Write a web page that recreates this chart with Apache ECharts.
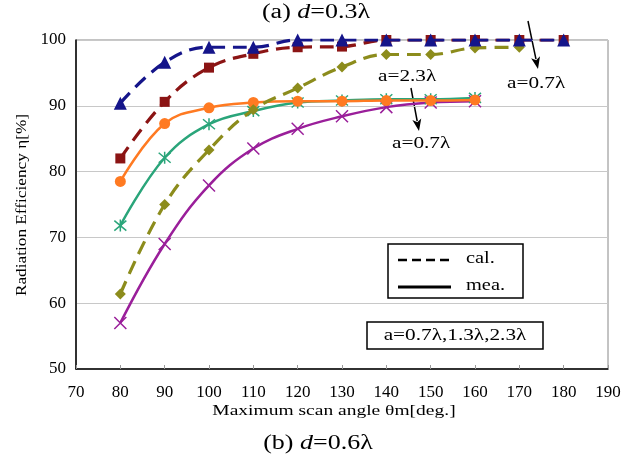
<!DOCTYPE html>
<html><head><meta charset="utf-8">
<script src="https://cdn.jsdelivr.net/npm/echarts@6/dist/echarts.min.js"></script>
<style>html,body{margin:0;padding:0;background:#fff}#c{width:631px;height:459px}</style>
</head><body><div id="c"></div>
<script>
// ---- data ----
const angles = [80, 90, 100, 110, 120, 130, 140, 150, 160, 170, 180];
const xTicks = [70, 80, 90, 100, 110, 120, 130, 140, 150, 160, 170, 180, 190];
const yTicks = [50, 60, 70, 80, 90, 100];
const calBlue   = [90.4, 96.6, 98.9, 98.9, 100, 100, 100, 100, 100, 100, 100];
const calRed    = [82.0, 90.6, 95.8, 97.9, 98.9, 99.0, 100, 100, 100, 100, 100];
const calOlive  = [61.4, 75.0, 83.3, 89.4, 92.7, 95.9, 97.8, 97.8, 98.8, 98.9];
const meaOrange = [78.5, 87.3, 89.7, 90.5, 90.7, 90.7, 90.8, 90.8, 90.9];
const meaGreen  = [71.8, 82.1, 87.2, 89.2, 90.5, 90.8, 91.0, 91.0, 91.2];
const meaPurple = [57.0, 69.0, 77.9, 83.5, 86.5, 88.4, 89.8, 90.5, 90.7];

const FONT = "'Liberation Serif','Times New Roman',serif";
const pairs = vals => vals.map((v, i) => [angles[i], v]);
const X_PATH = 'path://M0,0L10,10M10,0L0,10';
const AST_PATH = 'path://M0,0L10,10M10,0L0,10M5,-1L5,11';

function lineSeries(name, vals, color, dashed, symbol, size, strokeOnly, z) {
  return {
    name, type: 'line', data: pairs(vals), smooth: 0.4, z: z,
    symbol, symbolSize: size,
    lineStyle: { color, width: dashed ? 3.2 : 2.5, type: dashed ? [14, 8] : 'solid' },
    itemStyle: strokeOnly ? { color: 'rgba(0,0,0,0)', borderColor: color, borderWidth: 1.5 } : { color },
    emphasis: { disabled: true }
  };
}

function arrow(x1, y1, x2, y2) {
  const dx = x2 - x1, dy = y2 - y1, L = Math.hypot(dx, dy);
  const ux = dx / L, uy = dy / L, hl = 12, hw = 4.5;
  const bx = x2 - ux * hl, by = y2 - uy * hl;
  return [
    { type: 'line', shape: { x1, y1, x2: bx + ux * 2, y2: by + uy * 2 }, style: { stroke: '#000', lineWidth: 1.5 } },
    { type: 'polygon', shape: { points: [[x2, y2], [bx - uy * hw, by + ux * hw], [bx + ux * 3, by + uy * 3], [bx + uy * hw, by - ux * hw]] }, style: { fill: '#000' } }
  ];
}
function txt(x, y, text, size, align, sx, rich, rot) {
  return { type: 'text', x, y, scaleX: sx || 1, rotation: rot || 0, z: 100,
    style: { text, font: size + 'px ' + FONT, fill: '#000', align: align || 'left', verticalAlign: 'middle', rich: rich } };
}
const italicRich = { i: { fontStyle: 'italic', fontSize: 20, fontFamily: FONT } };

const chart = echarts.init(document.getElementById('c'), null, { renderer: 'canvas' });
chart.setOption({
  backgroundColor: '#fff',
  animation: false,
  grid: { left: 76, right: 23, top: 40, bottom: 90, show: true, borderColor: '#888', borderWidth: 1, backgroundColor: '#fff' },
  xAxis: {
    type: 'value', min: xTicks[0], max: xTicks[xTicks.length - 1], interval: 10,
    axisLine: { lineStyle: { color: '#000', width: 1.5 } },
    axisTick: { inside: true, length: 4, lineStyle: { color: '#999' } },
    axisLabel: { fontFamily: FONT, fontSize: 17, color: '#000', margin: 15 },
    splitLine: { show: false }
  },
  yAxis: {
    type: 'value', min: yTicks[0], max: yTicks[yTicks.length - 1], interval: 10,
    axisLine: { show: true, lineStyle: { color: '#000', width: 1.5 } },
    axisTick: { show: false },
    axisLabel: { fontFamily: FONT, fontSize: 17, color: '#000', margin: 10 },
    splitLine: { lineStyle: { color: '#c8c8c8', width: 1 } }
  },
  series: [
    lineSeries('mea. a=0.7λ', meaPurple, '#9a1f9a', false, X_PATH, 12, true, 2),
    lineSeries('mea. a=1.3λ', meaGreen, '#2aa57a', false, AST_PATH, 12, true, 3),
    lineSeries('mea. a=2.3λ', meaOrange, '#ff7a22', false, 'circle', 11, false, 4),
    lineSeries('cal. a=2.3λ', calOlive, '#8c8c1c', true, 'diamond', 11, false, 5),
    lineSeries('cal. a=1.3λ', calRed, '#8b1414', true, 'rect', 10, false, 6),
    lineSeries('cal. a=0.7λ', calBlue, '#15158a', true, 'triangle', 13, false, 7)
  ],
  graphic: [
    txt(316, 13, '(a) {i|d}=0.3λ', 20, 'center', 1.3, italicRich),
    txt(318, 444, '(b) {i|d}=0.6λ', 20, 'center', 1.3, italicRich),
    txt(334, 411, 'Maximum scan angle θm[deg.]', 15, 'center', 1.3),
    txt(22, 205, 'Radiation Efficiency η[%]', 15, 'center', 1.15, null, Math.PI / 2),
    txt(378, 77, 'a=2.3λ', 17, 'left', 1.25),
    txt(392, 144, 'a=0.7λ', 17, 'left', 1.25),
    txt(507, 84, 'a=0.7λ', 17, 'left', 1.25),
    ...arrow(411, 88, 419, 131),
    ...arrow(528, 21, 538, 69),
    { type: 'rect', shape: { x: 388, y: 244, width: 135, height: 54 }, style: { fill: '#fff', stroke: '#000', lineWidth: 1.5 }, z: 90 },
    { type: 'line', shape: { x1: 398, y1: 260, x2: 451, y2: 260 }, style: { stroke: '#000', lineWidth: 2.5, lineDash: [9, 5] }, z: 95 },
    { type: 'line', shape: { x1: 398, y1: 287, x2: 451, y2: 287 }, style: { stroke: '#000', lineWidth: 3 }, z: 95 },
    txt(466, 259, 'cal.', 17, 'left', 1.2),
    txt(466, 286, 'mea.', 17, 'left', 1.2),
    { type: 'rect', shape: { x: 367, y: 322, width: 176, height: 27 }, style: { fill: '#fff', stroke: '#000', lineWidth: 1.5 }, z: 90 },
    txt(455, 336, 'a=0.7λ,1.3λ,2.3λ', 17, 'center', 1.25)
  ]
});
</script></body></html>
